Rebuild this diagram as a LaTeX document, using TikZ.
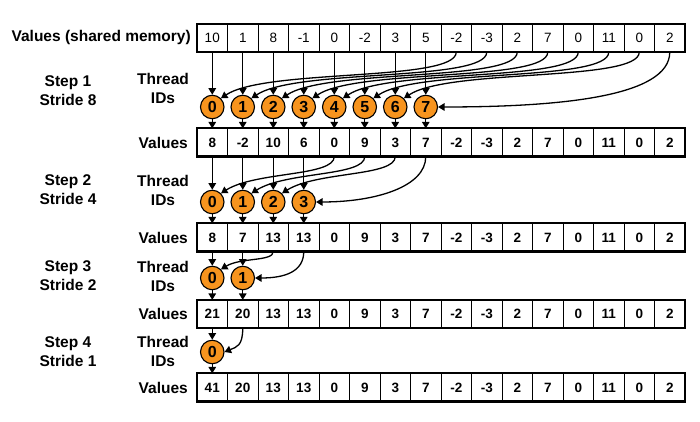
\documentclass[tikz,border=0pt]{standalone}
\usepackage{fontspec}
\setmainfont{Liberation Sans}
\usetikzlibrary{arrows.meta}
\definecolor{thr}{RGB}{247,148,30}
\begin{document}
\begin{tikzpicture}[x=1pt,y=1pt,
  cell/.style={draw, line width=0.7pt, minimum width=30.5pt, minimum height=27.5pt, inner sep=0pt, text height=9.5pt, text depth=0pt, font=\fontsize{13.5}{13.5}\selectfont\bfseries},
  cellr/.style={cell, font=\fontsize{13.5}{13.5}\selectfont},
  outer/.style={line width=2.2pt},
  thread/.style={circle, draw, fill=thr, minimum size=23.5pt, inner sep=0pt, line width=1.1pt, text height=11pt, text depth=0pt, font=\fontsize{16}{16}\selectfont\bfseries},
  arr/.style={-{Triangle[width=7.5pt,length=6.5pt]}, line width=1.3pt},
  lbl/.style={inner sep=0pt, font=\fontsize{15.5}{19}\selectfont\bfseries},
  lblc/.style={lbl, align=center}]
\useasboundingbox (0,0) rectangle (700,422);
% rows
\foreach \v [count=\k from 0] in {10,1,8,-1,0,-2,3,5,-2,-3,2,7,0,11,0,2}
  \node[cellr] (a\k) at ({212.25+30.5*\k},384) {\v};
\foreach \v [count=\k from 0] in {8,-2,10,6,0,9,3,7,-2,-3,2,7,0,11,0,2}
  \node[cell] (b\k) at ({212.25+30.5*\k},279.5) {\v};
\foreach \v [count=\k from 0] in {8,7,13,13,0,9,3,7,-2,-3,2,7,0,11,0,2}
  \node[cell] (c\k) at ({212.25+30.5*\k},184.5) {\v};
\foreach \v [count=\k from 0] in {21,20,13,13,0,9,3,7,-2,-3,2,7,0,11,0,2}
  \node[cell] (d\k) at ({212.25+30.5*\k},108) {\v};
\foreach \v [count=\k from 0] in {41,20,13,13,0,9,3,7,-2,-3,2,7,0,11,0,2}
  \node[cell] (e\k) at ({212.25+30.5*\k},34.5) {\v};
\foreach \r in {a,b,c,d,e}
  \draw[outer] (\r0.north west) rectangle (\r15.south east);
% labels
\node[lbl, anchor=east] (lv) at (191,384) {Values (shared memory)};
\node[lbl, anchor=east] (lb) at (188,279.5) {Values};
\node[lbl, anchor=east] (lc) at (188,184.5) {Values};
\node[lbl, anchor=east] (ld) at (188,108) {Values};
\node[lbl, anchor=east] (le) at (188,34.5) {Values};
\node[lblc] (th1) at (163,333.5) {Thread\\IDs};
\node[lblc] (th2) at (163,232) {Thread\\IDs};
\node[lblc] (th3) at (163,145.5) {Thread\\IDs};
\node[lblc] (th4) at (163,71) {Thread\\IDs};
\node[lblc] (s1) at (68,331) {Step 1\\Stride 8};
\node[lblc] (s2) at (68,232.5) {Step 2\\Stride 4};
\node[lblc] (s3) at (68,146.5) {Step 3\\Stride 2};
\node[lblc] (s4) at (68,70.5) {Step 4\\Stride 1};
% step 1
\foreach \i in {0,...,7} {
  \node[thread] (p\i) at ({212.25+30.5*\i},315) {\i};
  \draw[arr] (a\i.south) -- (p\i.north);
  \draw[arr] (p\i.south) -- (b\i.north);
}
\foreach \i in {0,...,6} {
  \pgfmathtruncatemacro\j{\i+8}
  \draw[arr] (a\j.south) .. controls +(0,-30) and +(45,30) .. (p\i.north east);
}
\draw[arr] (a15.south) .. controls +(0,-45) and +(120,0) .. (p7.east);
% step 2
\foreach \i in {0,...,3} {
  \node[thread] (q\i) at ({212.25+30.5*\i},220) {\i};
  \draw[arr] (b\i.south) -- (q\i.north);
  \draw[arr] (q\i.south) -- (c\i.north);
}
\foreach \i in {0,...,2} {
  \pgfmathtruncatemacro\j{\i+4}
  \draw[arr] (b\j.south) .. controls +(0,-20) and +(35,22) .. (q\i.north east);
}
\draw[arr] (b7.south) .. controls +(0,-30) and +(60,0) .. (q3.east);
% step 3
\foreach \i in {0,1} {
  \node[thread] (u\i) at ({212.25+30.5*\i},144) {\i};
  \draw[arr] (c\i.south) -- (u\i.north);
  \draw[arr] (u\i.south) -- (d\i.north);
}
\draw[arr] (c2.south) .. controls +(0,-10) and +(20,12) .. (u0.north east);
\draw[arr] (c3.south) .. controls +(0,-20) and +(30,0) .. (u1.east);
% step 4
\node[thread] (w0) at (212.25,70) {0};
\draw[arr] (d0.south) -- (w0.north);
\draw[arr] (w0.south) -- (e0.north);
\draw[arr] (d1.south) .. controls +(0,-18) and +(12,5) .. (w0.east);
\end{tikzpicture}
\end{document}
